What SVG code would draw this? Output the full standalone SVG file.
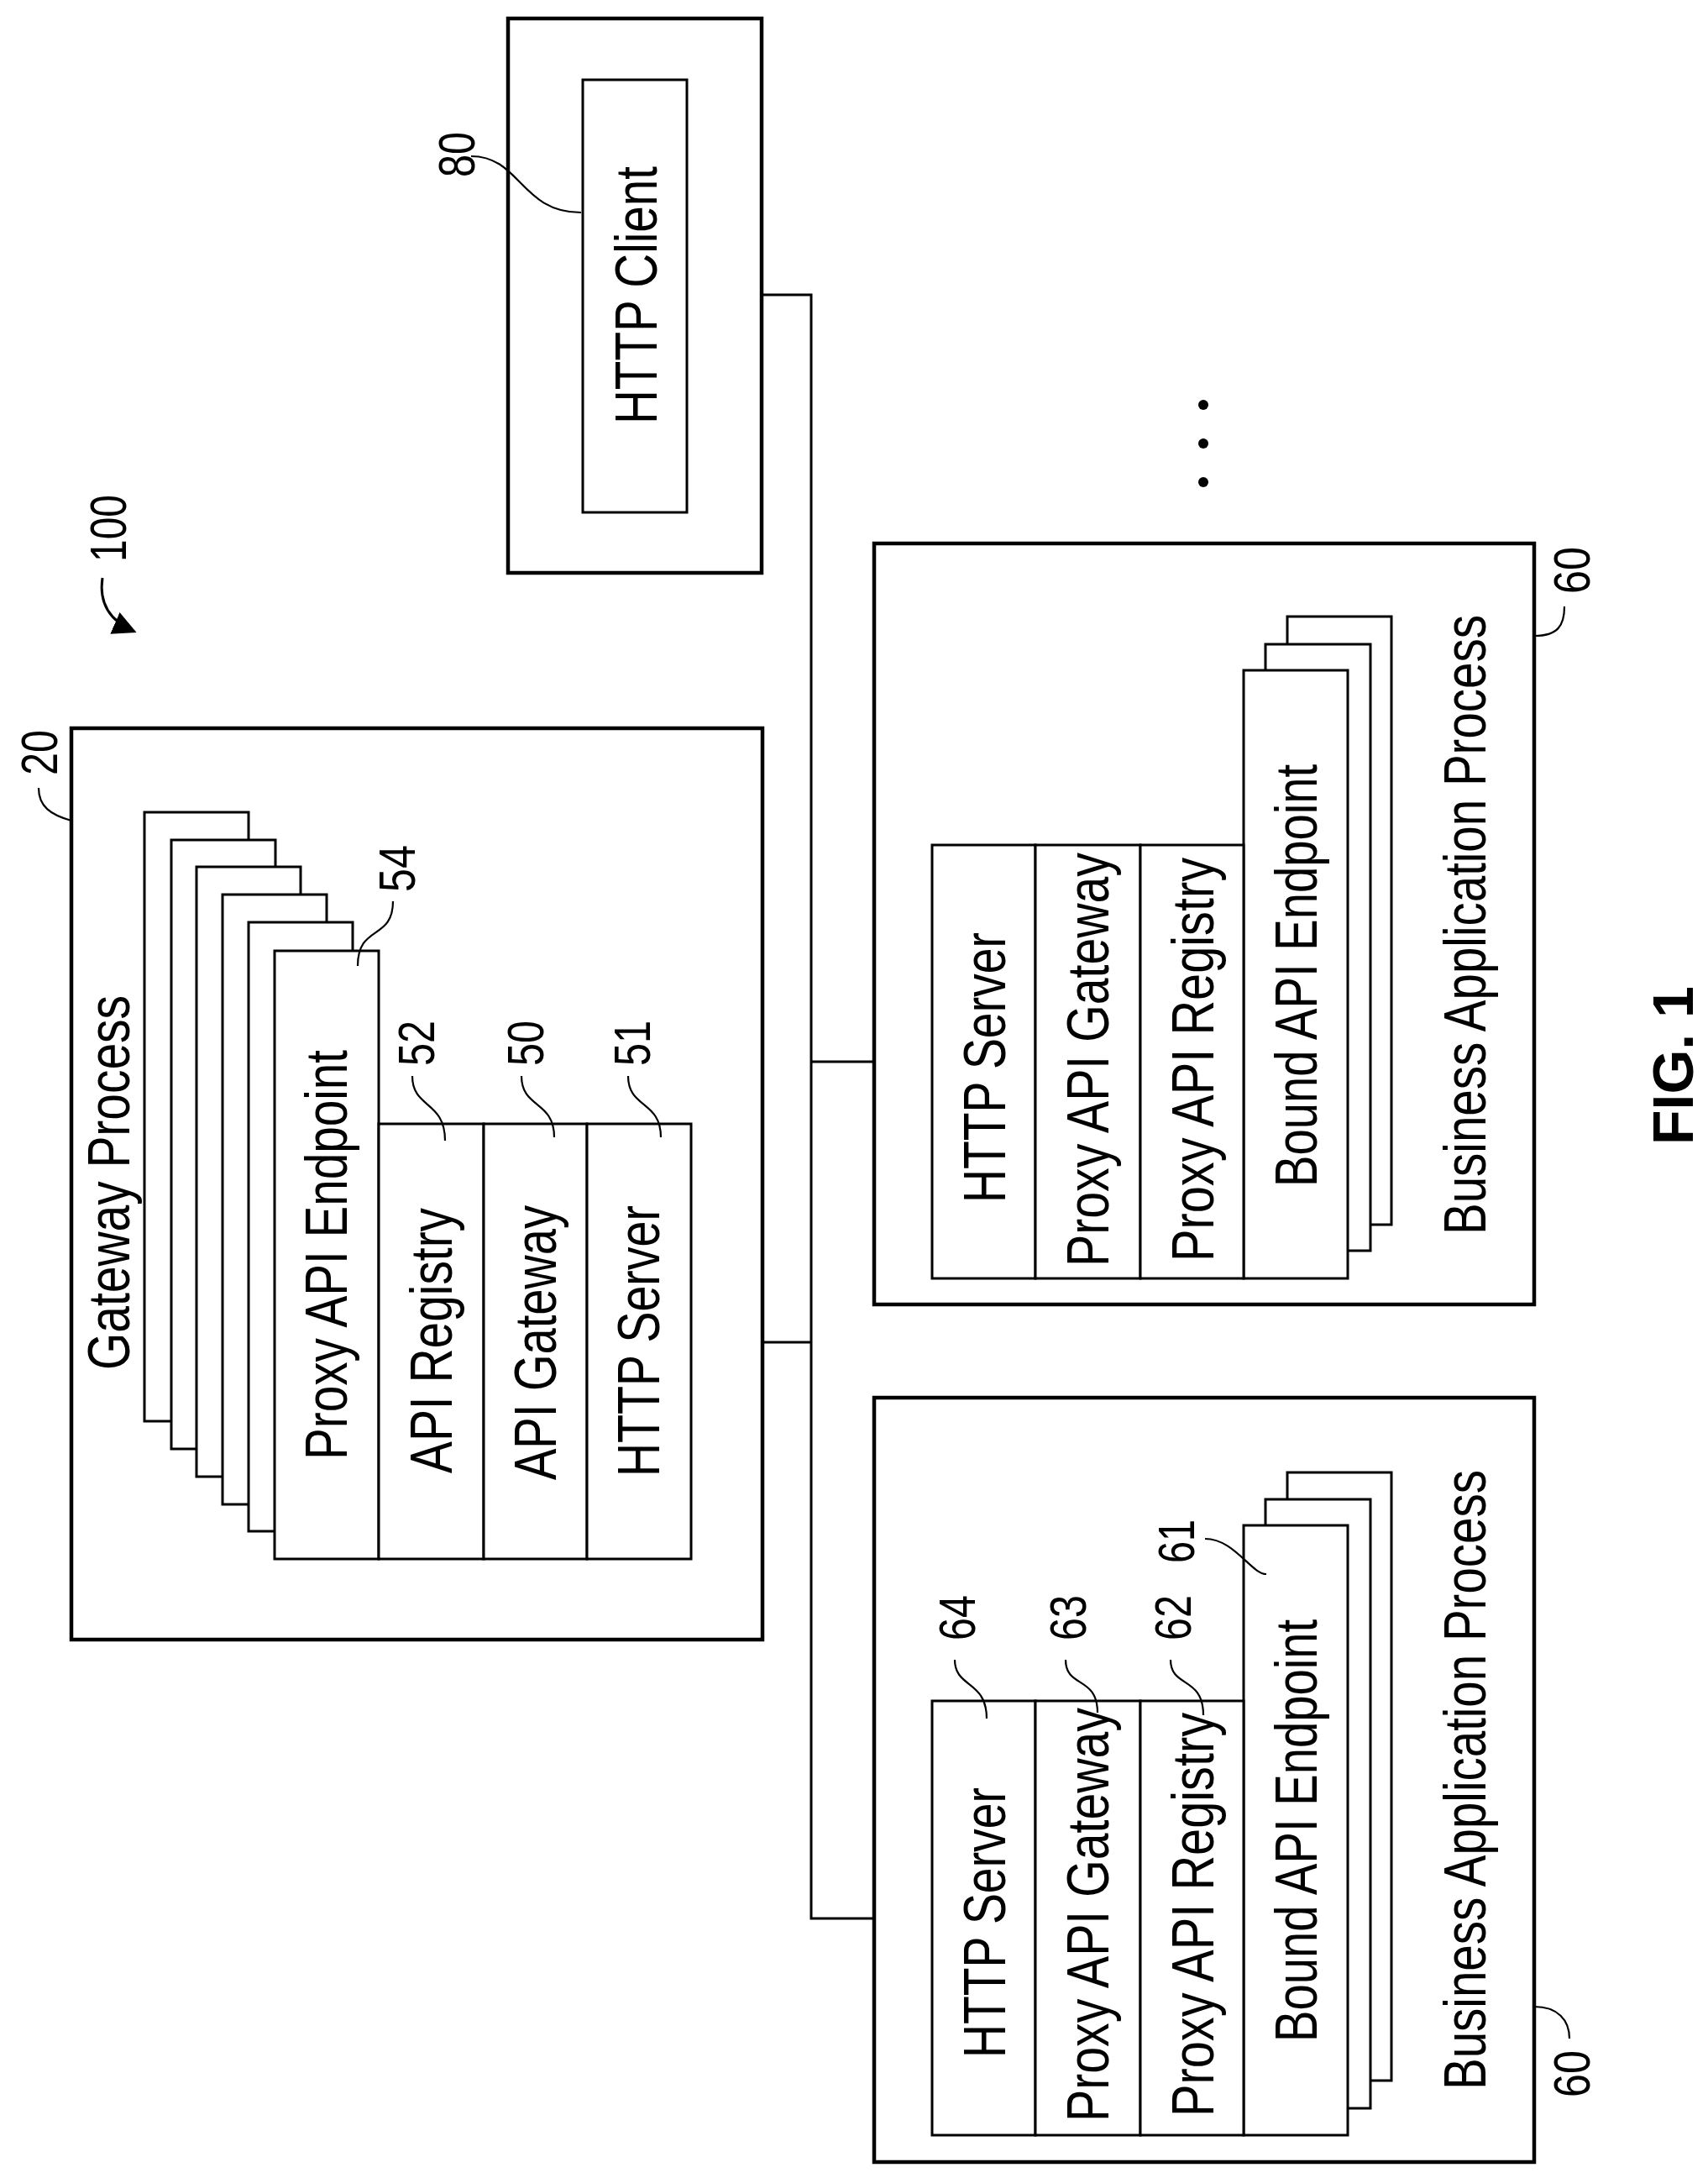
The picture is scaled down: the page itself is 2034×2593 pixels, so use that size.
<svg xmlns="http://www.w3.org/2000/svg" width="2034" height="2593" viewBox="0 0 2034 2593">
<style>
.o{fill:#fff;stroke:#000;stroke-width:4.5}
.b{fill:#fff;stroke:#000;stroke-width:3}
.l{fill:none;stroke:#000;stroke-width:3}
.c{fill:none;stroke:#000;stroke-width:2.2}
.t{font-family:"Liberation Sans",Arial,sans-serif;font-size:70px;fill:#000}
.n{font-family:"Liberation Sans",Arial,sans-serif;font-size:62px;fill:#000}
</style>
<defs>
<marker id="ah2" viewBox="0 0 10 10" refX="9" refY="5" markerWidth="28" markerHeight="28" markerUnits="userSpaceOnUse" orient="auto"><path d="M0,0L10,5L0,10z" fill="#000"/></marker>
</defs>
<rect width="2034" height="2593" fill="#fff"/>

<g id="connectors">
<path class="l" d="M818,351H966V2284H1110"/>
<path class="l" d="M823,1598H966"/>
<path class="l" d="M966,1264H1110"/>
</g>

<g id="label100">
<text class="n" transform="translate(150,669) rotate(-90)" textLength="80" lengthAdjust="spacingAndGlyphs">100</text>
<path d="M122,688C118,715 128,738 160,752" fill="none" stroke="#000" stroke-width="3" marker-end="url(#ah2)"/>
</g>

<g id="client">
<rect class="o" x="605" y="22" width="302" height="660"/>
<rect class="b" x="694" y="95" width="124" height="515"/>
<text class="t" transform="translate(782,505) rotate(-90)" textLength="307" lengthAdjust="spacingAndGlyphs">HTTP Client</text>
<text class="n" transform="translate(565,211) rotate(-90)" textLength="54" lengthAdjust="spacingAndGlyphs">80</text>
<path class="c" d="M561,186C620,186 620,253 692,253"/>
</g>

<g id="gateway">
<rect class="o" x="85" y="867" width="823" height="1085"/>
<text class="t" transform="translate(154,1631) rotate(-90)" textLength="446" lengthAdjust="spacingAndGlyphs">Gateway Process</text>
<text class="n" transform="translate(68,923) rotate(-90)" textLength="54" lengthAdjust="spacingAndGlyphs">20</text>
<path class="c" d="M85,977C60,970 46,960 46,938"/>
<rect class="b" x="172" y="967" width="124" height="725"/>
<rect class="b" x="204" y="1000" width="124" height="725"/>
<rect class="b" x="234" y="1032" width="124" height="726"/>
<rect class="b" x="265" y="1065" width="124" height="726"/>
<rect class="b" x="296" y="1098" width="124" height="725"/>
<rect class="b" x="327" y="1132" width="124" height="724"/>
<rect class="b" x="451" y="1338" width="125" height="518"/>
<rect class="b" x="576" y="1338" width="123" height="518"/>
<rect class="b" x="699" y="1338" width="124" height="518"/>
<text class="t" transform="translate(413,1738) rotate(-90)" textLength="488" lengthAdjust="spacingAndGlyphs">Proxy API Endpoint</text>
<text class="t" transform="translate(538,1754) rotate(-90)" textLength="316" lengthAdjust="spacingAndGlyphs">API Registry</text>
<text class="t" transform="translate(662,1762) rotate(-90)" textLength="327" lengthAdjust="spacingAndGlyphs">API Gateway</text>
<text class="t" transform="translate(785,1758) rotate(-90)" textLength="323" lengthAdjust="spacingAndGlyphs">HTTP Server</text>
<text class="n" transform="translate(494,1062) rotate(-90)" textLength="56" lengthAdjust="spacingAndGlyphs">54</text>
<text class="n" transform="translate(517,1269) rotate(-90)" textLength="54" lengthAdjust="spacingAndGlyphs">52</text>
<text class="n" transform="translate(647,1269) rotate(-90)" textLength="54" lengthAdjust="spacingAndGlyphs">50</text>
<text class="n" transform="translate(774,1269) rotate(-90)" textLength="54" lengthAdjust="spacingAndGlyphs">51</text>
<path class="c" d="M426,1150C426,1100 468,1120 468,1073"/>
<path class="c" d="M530,1358C530,1310 491,1320 491,1281"/>
<path class="c" d="M660,1354C660,1310 621,1320 621,1281"/>
<path class="c" d="M787,1354C787,1310 748,1320 748,1281"/>
</g>

<g id="bap-upper">
<rect class="o" x="1041" y="647" width="786" height="906"/>
<rect class="b" x="1533" y="734" width="124" height="724"/>
<rect class="b" x="1507" y="767" width="125" height="722"/>
<rect class="b" x="1481" y="798" width="124" height="724"/>
<rect class="b" x="1110" y="1006" width="123" height="516"/>
<rect class="b" x="1233" y="1006" width="125" height="516"/>
<rect class="b" x="1358" y="1006" width="123" height="516"/>
<text class="t" transform="translate(1197,1432) rotate(-90)" textLength="322" lengthAdjust="spacingAndGlyphs">HTTP Server</text>
<text class="t" transform="translate(1320,1508) rotate(-90)" textLength="493" lengthAdjust="spacingAndGlyphs">Proxy API Gateway</text>
<text class="t" transform="translate(1445,1502) rotate(-90)" textLength="481" lengthAdjust="spacingAndGlyphs">Proxy API Registry</text>
<text class="t" transform="translate(1568,1413) rotate(-90)" textLength="503" lengthAdjust="spacingAndGlyphs">Bound API Endpoint</text>
<text class="t" transform="translate(1769,1470) rotate(-90)" textLength="738" lengthAdjust="spacingAndGlyphs">Business Application Process</text>
<text class="n" transform="translate(1893,707) rotate(-90)" textLength="56" lengthAdjust="spacingAndGlyphs">60</text>
<path class="c" d="M1827,757C1855,757 1863,745 1863,722"/>
</g>

<g id="dots">
<circle cx="1433" cy="482" r="6"/>
<circle cx="1433" cy="528" r="6"/>
<circle cx="1433" cy="574" r="6"/>
</g>

<g id="bap-lower">
<rect class="o" x="1041" y="1664" width="786" height="910"/>
<rect class="b" x="1533" y="1753" width="124" height="724"/>
<rect class="b" x="1507" y="1785" width="125" height="725"/>
<rect class="b" x="1481" y="1816" width="124" height="726"/>
<rect class="b" x="1110" y="2025" width="123" height="517"/>
<rect class="b" x="1233" y="2025" width="125" height="517"/>
<rect class="b" x="1358" y="2025" width="123" height="517"/>
<text class="t" transform="translate(1197,2450) rotate(-90)" textLength="322" lengthAdjust="spacingAndGlyphs">HTTP Server</text>
<text class="t" transform="translate(1320,2526) rotate(-90)" textLength="493" lengthAdjust="spacingAndGlyphs">Proxy API Gateway</text>
<text class="t" transform="translate(1445,2520) rotate(-90)" textLength="481" lengthAdjust="spacingAndGlyphs">Proxy API Registry</text>
<text class="t" transform="translate(1568,2431) rotate(-90)" textLength="503" lengthAdjust="spacingAndGlyphs">Bound API Endpoint</text>
<text class="t" transform="translate(1769,2488) rotate(-90)" textLength="738" lengthAdjust="spacingAndGlyphs">Business Application Process</text>
<text class="n" transform="translate(1161,1953) rotate(-90)" textLength="54" lengthAdjust="spacingAndGlyphs">64</text>
<text class="n" transform="translate(1293,1953) rotate(-90)" textLength="54" lengthAdjust="spacingAndGlyphs">63</text>
<text class="n" transform="translate(1418,1953) rotate(-90)" textLength="54" lengthAdjust="spacingAndGlyphs">62</text>
<text class="n" transform="translate(1422,1861) rotate(-90)" textLength="52" lengthAdjust="spacingAndGlyphs">61</text>
<text class="n" transform="translate(1893,2497) rotate(-90)" textLength="56" lengthAdjust="spacingAndGlyphs">60</text>
<path class="c" d="M1175,2046C1175,2000 1137,2010 1137,1976"/>
<path class="c" d="M1307,2039C1307,1995 1269,2010 1269,1976"/>
<path class="c" d="M1433,2042C1433,1995 1394,2010 1394,1976"/>
<path class="c" d="M1508,1874C1490,1874 1470,1832 1435,1832"/>
<path class="c" d="M1827,2389C1855,2389 1869,2405 1869,2427"/>
</g>

<text id="fig" transform="translate(2016,1363) rotate(-90)" font-family="Liberation Sans,Arial,sans-serif" font-weight="bold" font-size="68">FIG. 1</text>
</svg>
